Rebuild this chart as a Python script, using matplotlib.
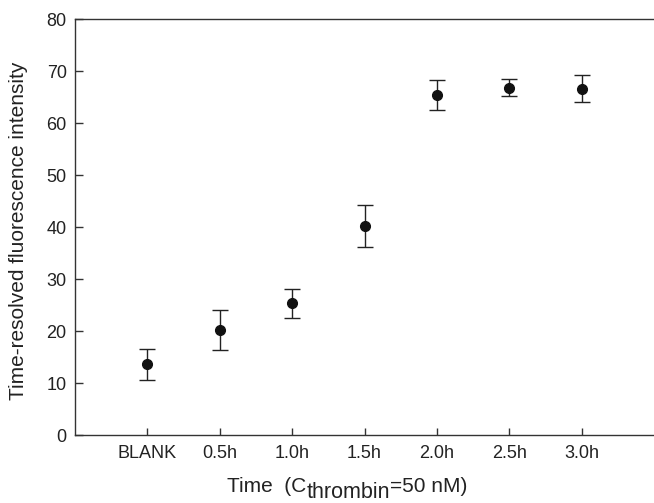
import numpy as np
from matplotlib import pyplot as plt

plt.rcParams['font.family'] = ['Liberation Sans', 'DejaVu Sans']

labels = ["BLANK", "0.5h", "1.0h", "1.5h", "2.0h", "2.5h", "3.0h"]
intensity = [13.6, 20.2, 25.3, 40.2, 65.4, 66.8, 66.6]
errors = [2.95, 3.9, 2.8, 4.05, 2.9, 1.6, 2.6]

W, H = 654, 503
fig = plt.figure(figsize=(W / 100, H / 100), dpi=100)
ax = fig.add_axes([75 / W, 1 - 435 / H, 579 / W, 416 / H])

x = np.arange(1, len(labels) + 1)
ax.errorbar(x, intensity, yerr=errors, fmt='o', color='#111111', ecolor='#222222',
            markersize=7, elinewidth=1.0, capsize=6, capthick=1.0)

ax.set_xlim(0, 8)
ax.set_ylim(0, 80)
ax.set_yticks(np.arange(0, 81, 10))
ax.set_xticks(x)
ax.set_xticklabels(labels)

for side in ['left', 'bottom', 'top']:
    ax.spines[side].set_color('#333333')
    ax.spines[side].set_linewidth(1.0)
ax.spines['right'].set_visible(False)

ax.tick_params(axis='x', direction='in', length=5, width=1, color='#333333',
               labelsize=13, pad=7, labelcolor='#222222')
ax.tick_params(axis='y', direction='in', length=6, width=1, color='#333333',
               labelsize=13, pad=6, labelcolor='#222222')

ax.set_ylabel("Time-resolved fluorescence intensity", fontsize=15, color='#222222')
ax.yaxis.set_label_coords(-0.081, 0.4916)

# x label built from pieces so the subscript keeps a large size
r = fig.canvas.get_renderer()
base_y = 11 / H
t1 = fig.text(227 / W, base_y, "Time  (C", fontsize=15, va='baseline', color='#222222')
bb1 = t1.get_window_extent(r)
t2 = fig.text(bb1.x1 / W, base_y - 6 / H, "thrombin", fontsize=15.5, va='baseline', color='#222222')
bb2 = t2.get_window_extent(r)
fig.text(bb2.x1 / W, base_y, "=50 nM)", fontsize=15, va='baseline', color='#222222')

plt.savefig("out.png", dpi=100)
